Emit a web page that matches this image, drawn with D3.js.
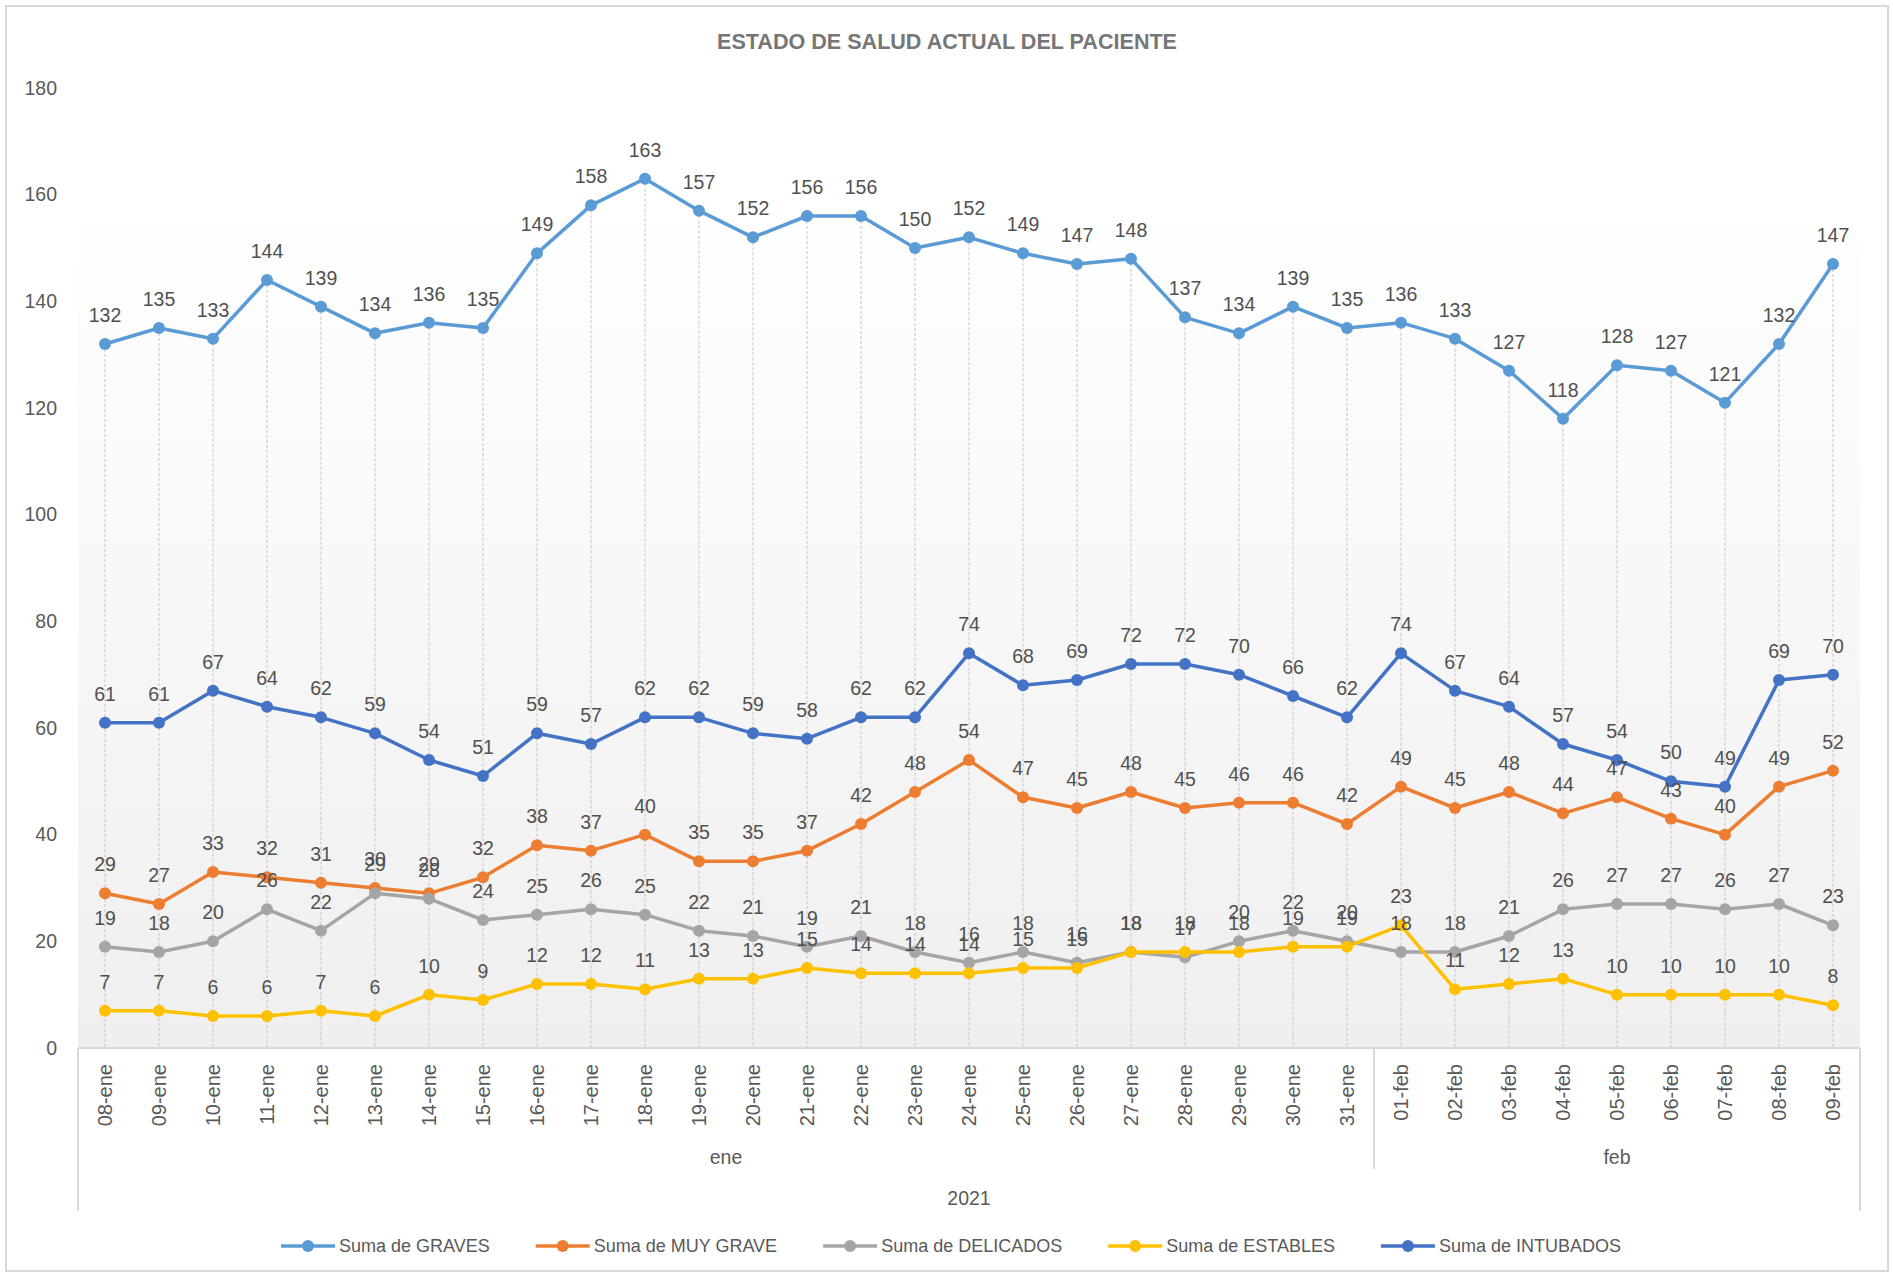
<!DOCTYPE html>
<html>
<head>
<meta charset="utf-8">
<script src="https://cdn.jsdelivr.net/npm/d3@7"></script>
<style>
  body { margin: 0; background: #fff; }
  text { font-family: "Liberation Sans", Arial, sans-serif; }
</style>
</head>
<body>
<script>
// Data
const dates = ["08-ene","09-ene","10-ene","11-ene","12-ene","13-ene","14-ene","15-ene","16-ene","17-ene",
  "18-ene","19-ene","20-ene","21-ene","22-ene","23-ene","24-ene","25-ene","26-ene","27-ene","28-ene",
  "29-ene","30-ene","31-ene","01-feb","02-feb","03-feb","04-feb","05-feb","06-feb","07-feb","08-feb","09-feb"];
const graves = [132,135,133,144,139,134,136,135,149,158,163,157,152,156,156,150,152,149,147,148,137,134,139,135,136,133,127,118,128,127,121,132,147];
const muyGrave = [29,27,33,32,31,30,29,32,38,37,40,35,35,37,42,48,54,47,45,48,45,46,46,42,49,45,48,44,47,43,40,49,52];
const delicados = [19,18,20,26,22,29,28,24,25,26,25,22,21,19,21,18,16,18,16,18,17,20,22,20,18,18,21,26,27,27,26,27,23];
const estables = [7,7,6,6,7,6,10,9,12,12,11,13,13,15,14,14,14,15,15,18,18,18,19,19,23,11,12,13,10,10,10,10,8];
const intubados = [61,61,67,64,62,59,54,51,59,57,62,62,59,58,62,62,74,68,69,72,72,70,66,62,74,67,64,57,54,50,49,69,70];
const seriesNames = ["Suma de GRAVES","Suma de MUY GRAVE","Suma de DELICADOS","Suma de ESTABLES","Suma de INTUBADOS"];
const seriesColors = ["#5b9bd5","#ed7d31","#a5a5a5","#ffc000","#4472c4"];
const yTicks = [0,20,40,60,80,100,120,140,160,180];
const months = ["ene","feb"];
const year = "2021";
const title = "ESTADO DE SALUD ACTUAL DEL PACIENTE";

const series = [graves, muyGrave, delicados, estables, intubados].map((v, i) => ({
  name: seriesNames[i], color: seriesColors[i], values: v
}));

let width = 1893, height = 1277;
let plot = { left: 78, right: 1860, top: 198, bottom: 1048 };

let svg = d3.select('body')
  .append('svg')
  .attr('width', width)
  .attr('height', height);

// chart border
svg.append('rect')
  .attr('x', 6).attr('y', 6)
  .attr('width', 1882).attr('height', 1265)
  .attr('fill', '#fff')
  .attr('stroke', '#d9d9d9')
  .attr('stroke-width', 2);

// plot area gradient
let grad = svg.append('defs').append('linearGradient')
  .attr('id', 'plotbg')
  .attr('x1', '0%').attr('y1', '0%').attr('x2', '0%').attr('y2', '100%');
grad.append('stop').attr('offset', '0%').attr('stop-color', '#ffffff');
grad.append('stop').attr('offset', '100%').attr('stop-color', '#efefef');

svg.append('rect')
  .attr('x', plot.left).attr('y', plot.top)
  .attr('width', plot.right - plot.left).attr('height', plot.bottom - plot.top)
  .attr('fill', 'url(#plotbg)');

// scales
let xScale = d3.scaleBand()
  .domain(dates)
  .range([plot.left, plot.right]);
const cx = d => xScale(d) + xScale.bandwidth() / 2;

let yScale = d3.scaleLinear()
  .domain([0, 180])
  .range([1048, 88]);

// title
svg.append('text')
  .attr('x', 947).attr('y', 49)
  .attr('text-anchor', 'middle')
  .attr('font-size', 22)
  .attr('font-weight', 'bold')
  .attr('fill', '#767676')
  .attr('textLength', 460)
  .attr('lengthAdjust', 'spacingAndGlyphs')
  .text(title);

// y axis labels
let yAxis = svg.append('g')
  .attr('transform', `translate(${plot.left}, 0)`)
  .call(d3.axisLeft(yScale).tickValues(yTicks).tickSize(0).tickPadding(21));
yAxis.select('.domain').remove();
yAxis.selectAll('text')
  .attr('font-family', '"Liberation Sans", Arial, sans-serif')
  .attr('font-size', 19.5)
  .attr('fill', '#595959');

// drop lines from highest point to the axis
svg.append('g').selectAll('line')
  .data(dates)
  .enter()
  .append('line')
  .attr('x1', d => cx(d)).attr('x2', d => cx(d))
  .attr('y1', (d, i) => yScale(d3.max(series, s => s.values[i])))
  .attr('y2', plot.bottom)
  .attr('stroke', '#c4c4c4')
  .attr('stroke-width', 1)
  .attr('stroke-dasharray', '3,2');

// x axis
let xAxis = svg.append('g')
  .attr('transform', `translate(0, ${plot.bottom})`)
  .call(d3.axisBottom(xScale).tickSize(0));
xAxis.select('.domain').remove();
xAxis.selectAll('text')
  .attr('font-family', '"Liberation Sans", Arial, sans-serif')
  .attr('font-size', 20)
  .attr('fill', '#595959')
  .attr('text-anchor', 'end')
  .attr('transform', 'rotate(-90)')
  .attr('x', -16)
  .attr('y', 0)
  .attr('dy', '0.36em');

svg.append('line')
  .attr('x1', plot.left).attr('x2', plot.right)
  .attr('y1', plot.bottom).attr('y2', plot.bottom)
  .attr('stroke', '#d9d9d9').attr('stroke-width', 2);

// month groups
let monthInfo = months.map(m => {
  let idx = dates.map((d, i) => d.endsWith(m) ? i : -1).filter(i => i >= 0);
  return { m: m, x0: xScale(dates[idx[0]]), x1: xScale(dates[idx[idx.length - 1]]) + xScale.bandwidth() };
});

svg.append('g').selectAll('line')
  .data(monthInfo.slice(1))
  .enter()
  .append('line')
  .attr('x1', d => d.x0).attr('x2', d => d.x0)
  .attr('y1', plot.bottom).attr('y2', 1169)
  .attr('stroke', '#d9d9d9').attr('stroke-width', 2);

[plot.left, plot.right].forEach(xx => {
  svg.append('line')
    .attr('x1', xx).attr('x2', xx)
    .attr('y1', plot.bottom).attr('y2', 1211)
    .attr('stroke', '#d9d9d9').attr('stroke-width', 2);
});

svg.append('g').selectAll('text')
  .data(monthInfo)
  .enter()
  .append('text')
  .attr('x', d => (d.x0 + d.x1) / 2)
  .attr('y', 1164)
  .attr('text-anchor', 'middle')
  .attr('font-size', 19.5)
  .attr('fill', '#595959')
  .text(d => d.m);

svg.append('text')
  .attr('x', (plot.left + plot.right) / 2)
  .attr('y', 1205)
  .attr('text-anchor', 'middle')
  .attr('font-size', 19.5)
  .attr('fill', '#595959')
  .text(year);

// lines and markers
let line = d3.line()
  .x((v, i) => cx(dates[i]))
  .y(v => yScale(v));

let seriesG = svg.append('g').selectAll('g')
  .data(series)
  .enter()
  .append('g');

seriesG.append('path')
  .attr('d', s => line(s.values))
  .attr('fill', 'none')
  .attr('stroke', s => s.color)
  .attr('stroke-width', 3.5)
  .attr('stroke-linejoin', 'round');

seriesG.selectAll('circle')
  .data(s => s.values.map(v => ({ v: v, color: s.color })))
  .enter()
  .append('circle')
  .attr('cx', (d, i) => cx(dates[i]))
  .attr('cy', d => yScale(d.v))
  .attr('r', 6)
  .attr('fill', d => d.color);

// data labels on top
let labelG = svg.append('g');
series.forEach(s => {
  labelG.selectAll(null)
    .data(s.values)
    .enter()
    .append('text')
    .attr('x', (v, i) => cx(dates[i]))
    .attr('y', v => yScale(v) - 22)
    .attr('text-anchor', 'middle')
    .attr('font-size', 19.5)
    .attr('fill', '#505050')
    .text(v => v);
});

// legend
let legend = svg.append('g');
let items = legend.selectAll('g')
  .data(series)
  .enter()
  .append('g');

items.append('line')
  .attr('x1', 0).attr('x2', 54)
  .attr('y1', 0).attr('y2', 0)
  .attr('stroke', s => s.color)
  .attr('stroke-width', 3.5);
items.append('circle')
  .attr('cx', 27).attr('cy', 0).attr('r', 6)
  .attr('fill', s => s.color);
items.append('text')
  .attr('x', 58).attr('y', 0)
  .attr('dy', '0.35em')
  .attr('font-size', 18)
  .attr('fill', '#595959')
  .text(s => s.name);

let offset = 0, pos = [];
items.each(function () {
  pos.push(offset);
  let w = 58 + d3.select(this).select('text').node().getComputedTextLength();
  offset += w + 46;
});
let total = offset - 46;
let startX = 951 - total / 2;
items.attr('transform', (d, i) => `translate(${startX + pos[i]}, 1246)`);
</script>
</body>
</html>
